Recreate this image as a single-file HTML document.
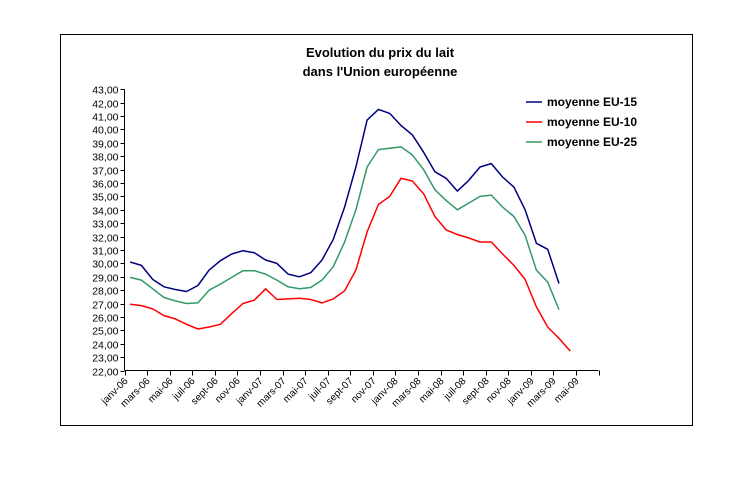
<!DOCTYPE html>
<html><head><meta charset="utf-8"><style>
body{margin:0;background:#fff;}
svg text{font-family:"Liberation Sans",Arial,sans-serif;}
</style></head><body>
<svg width="740" height="478" viewBox="0 0 740 478">
<rect x="0" y="0" width="740" height="478" fill="#fff"/>
<rect x="60.5" y="34.5" width="632" height="391" fill="none" stroke="#000" stroke-width="1"/>
<text x="380" y="57" text-anchor="middle" font-size="13" font-weight="bold">Evolution du prix du lait</text>
<text x="380" y="76" text-anchor="middle" font-size="13" font-weight="bold">dans l'Union européenne</text>
<g id="axes"></g>
<g id="series"></g>
<g>
<line x1="526" y1="102" x2="542" y2="102" stroke="#000080" stroke-width="1.5"/>
<text x="547" y="106" font-size="12" font-weight="bold">moyenne EU-15</text>
<line x1="526" y1="122" x2="542" y2="122" stroke="#ff0000" stroke-width="1.5"/>
<text x="547" y="126" font-size="12" font-weight="bold">moyenne EU-10</text>
<line x1="526" y1="142" x2="542" y2="142" stroke="#339966" stroke-width="1.5"/>
<text x="547" y="146" font-size="12" font-weight="bold">moyenne EU-25</text>
</g>
</svg>
<script>
const months=["janv","févr","mars","avr","mai","juin","juil","août","sept","oct","nov","déc"];
const categoryCount=42;
const yTicks=[22,23,24,25,26,27,28,29,30,31,32,33,34,35,36,37,38,39,40,41,42,43];
const eu15=[30.1,29.85,28.8,28.25,28.05,27.9,28.35,29.5,30.2,30.7,30.95,30.8,30.25,30.0,29.2,29.0,29.3,30.25,31.8,34.2,37.2,40.7,41.5,41.2,40.3,39.6,38.3,36.85,36.35,35.4,36.2,37.2,37.45,36.45,35.7,34.0,31.5,31.05,28.5];
const eu10=[26.95,26.85,26.6,26.1,25.85,25.45,25.1,25.25,25.45,26.25,27.0,27.25,28.1,27.3,27.35,27.4,27.3,27.05,27.35,27.95,29.5,32.35,34.4,35.0,36.35,36.15,35.2,33.5,32.5,32.15,31.9,31.6,31.6,30.7,29.85,28.8,26.75,25.25,24.4,23.45];
const eu25=[28.95,28.75,28.1,27.45,27.2,27.0,27.05,28.0,28.45,28.95,29.45,29.45,29.2,28.75,28.25,28.1,28.2,28.75,29.75,31.6,34.0,37.2,38.5,38.6,38.7,38.1,37.0,35.5,34.7,34.0,34.5,35.0,35.1,34.2,33.5,32.1,29.5,28.6,26.55];

const NS="http://www.w3.org/2000/svg";
const X0=124.5,X1=598.5,Y0=370.5,Y1=89.3,VMIN=22,VMAX=43;
const cw=(X1-X0)/categoryCount;
function xPos(i){return X0+cw*(i+0.5);}
function xTick(i){return X0+cw*i;}
function yPos(v){return Y0-(v-VMIN)/(VMAX-VMIN)*(Y0-Y1);}
function mk(tag,attrs,parent){const e=document.createElementNS(NS,tag);for(const k in attrs)e.setAttribute(k,attrs[k]);parent.appendChild(e);return e;}
const axes=document.getElementById('axes');
let el=mk('line',{x1:X0,y1:Y1,x2:X0,y2:Y0,stroke:'#000','stroke-width':1},axes);


el=mk('line',{x1:X0,y1:Y0,x2:X1,y2:Y0,stroke:'#000','stroke-width':1},axes);


yTicks.forEach(v=>{
  const y=Math.round(yPos(v))+0.5;
  const t=mk('line',{x1:X0-4,y1:y,x2:X0,y2:y,stroke:'#000'},axes);
  
  
  const tx=mk('text',{x:X0-6,y:y+4,'text-anchor':'end','font-size':'10.5'},axes);
  tx.textContent=v.toFixed(2).replace('.',',');
  
  
});
for(let i=0;i<=categoryCount;i+=2){
  const x=Math.round(xTick(i))+0.5;
  const t=mk('line',{x1:x,y1:Y0,x2:x,y2:Y0+5,stroke:'#000'},axes);
  
  
  if(i<categoryCount){
    const m=i%12,yr=6+Math.floor(i/12);
    let name=months[m]; if(name==='sept'){} 
    if(m===8)name='sept';
    const lbl=name+'-0'+yr;
    const tx=mk('text',{x:x+3,y:Y0+11,'text-anchor':'end','font-size':'10',transform:`rotate(-45 ${x+3} ${Y0+11})`},axes);
    tx.textContent=lbl;
    
    
  }
}
const sg=document.getElementById('series');
function drawLine(vals,color,name){
  const pts=vals.map((v,i)=>xPos(i).toFixed(1)+','+yPos(v).toFixed(1)).join(' ');
  const p=mk('polyline',{points:pts,fill:'none',stroke:color,'stroke-width':1.5,'stroke-linejoin':'round'},sg);
  
  
}
drawLine(eu25,'#339966','line-eu25');
drawLine(eu10,'#ff0000','line-eu10');
drawLine(eu15,'#000080','line-eu15');
</script>
</body></html>
